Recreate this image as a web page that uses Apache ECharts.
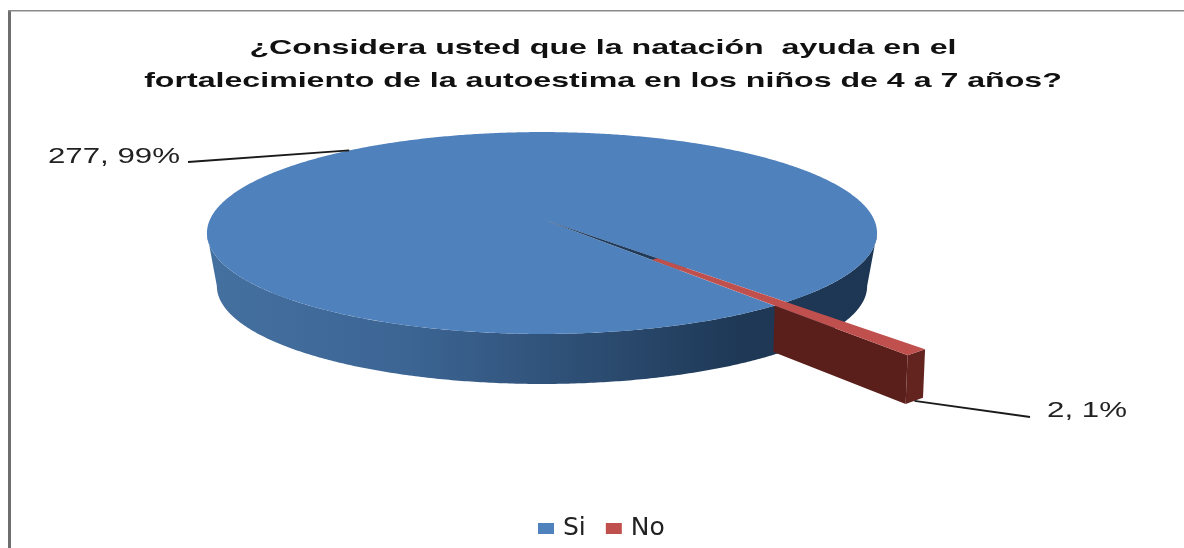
<!DOCTYPE html>
<html>
<head>
<meta charset="utf-8">
<style>html,body{margin:0;padding:0;background:#fff}#c{width:1184px;height:548px}</style>
<script src="https://cdn.jsdelivr.net/npm/echarts@6/dist/echarts.min.js"></script>
</head>
<body>
<div id="c"></div>
<script>
const titleLines = ['¿Considera usted que la natación  ayuda en el', 'fortalecimiento de la autoestima en los niños de 4 a 7 años?'];
const categories = ['Si', 'No'];
const values = [277, 2];
const colors = ['#4f81bd', '#c0504d'];

const total = values.reduce((a, b) => a + b, 0);
const startDeg = 51.3;
const PX = 542, K = 0.1387;
const topPlane = {R: 331.8, S: 99, cy: 219};
const bluePlane = {R: 322, S: 96, cy: 272.5};
const redPlane = {R: 330, S: 104, cy: 261};
const EXPLODE = 1.48;

function proj(plane, deg, r) {
  const a = deg * Math.PI / 180, u = r * Math.cos(a), v = r * Math.sin(a), w = 1 - K * v;
  return [PX + plane.R * u / w, plane.cy + plane.S * v / w];
}
function arc(plane, d0, d1, r) {
  const n = Math.max(2, Math.ceil(Math.abs(d1 - d0) * 2)), p = [];
  for (let i = 0; i <= n; i++) p.push(proj(plane, d0 + (d1 - d0) * i / n, r));
  return p;
}
function span(idx) {
  let s = startDeg;
  for (let i = 0; i < idx; i++) s += values[i] / total * 360;
  return [s, s + values[idx] / total * 360];
}
function labelText(i) {
  return values[i] + ', ' + Math.round(values[i] / total * 100) + '%';
}
function poly(points, fill, z2) {
  return {type: 'polygon', shape: {points}, style: {fill, stroke: null}, z2: z2 || 0, silent: true};
}
function leader(points) {
  return {type: 'polyline', shape: {points}, style: {stroke: '#1a1a1a', lineWidth: 1.8, fill: null}, z2: 20, silent: true};
}
function label(text, x, y) {
  return {type: 'text', x, y, scaleX: 1.42, z2: 20, silent: true,
    style: {text, fill: '#222', font: '22px "Liberation Sans"', textAlign: 'right', textVerticalAlign: 'middle'}};
}

function renderSi() {
  const [a0, a1] = span(0);
  const wallTop = arc(topPlane, 8, 172, 1);
  const wallBot = arc(bluePlane, 172, 8, 1);
  const mid = (a0 + a1) / 2;
  const wall = {
    type: 'polygon', shape: {points: wallTop.concat(wallBot)}, silent: true,
    style: {fill: new echarts.graphic.LinearGradient(0, 0, 1, 0, [
      {offset: 0, color: '#44709f'},
      {offset: 0.3, color: '#3c6594'},
      {offset: 0.55, color: '#2e4f75'},
      {offset: 0.8, color: '#1e3856'},
      {offset: 1, color: '#1c3653'}
    ])}
  };
  const face = poly([proj(topPlane, 0, 0)].concat(arc(topPlane, a0, a1, 1)), colors[0], 1);
  const slit = poly([proj(topPlane, 0, 0)].concat(arc(topPlane, a1, a0 + 360, 0.62)), '#1f3a5a', 2);
  return {type: 'group', children: [
    wall, face, slit,
    leader([[188, 162], proj(topPlane, mid, 1)]),
    label(labelText(0), 180, 157)
  ]};
}

function renderNo() {
  const [a0, a1] = span(1);
  const r = EXPLODE, mid = (a0 + a1) / 2;
  const sideWall = poly([proj(topPlane, a1, 1), proj(topPlane, a1, r), proj(redPlane, a1, r), proj(redPlane, a1, 1)], '#5a1f1b', 11);
  const endWall = poly([proj(topPlane, a1, r), proj(topPlane, a0, r), proj(redPlane, a0, r), proj(redPlane, a1, r)], '#632420', 11);
  const top = poly([proj(topPlane, a0, 0.5), proj(topPlane, a0, r), proj(topPlane, a1, r), proj(topPlane, a1, 0.5)], colors[1], 12);
  return {type: 'group', children: [
    sideWall, endWall, top,
    leader([proj(redPlane, mid, r), [1030, 417]]),
    label(labelText(1), 1127, 411)
  ]};
}

const renderers = [renderSi, renderNo];
const titleY = [48, 81];
const chart = echarts.init(document.getElementById('c'), null, {renderer: 'canvas'});
chart.setOption({
  animation: false,
  backgroundColor: '#fff',
  legend: {
    data: categories, left: 533, top: 511, icon: 'rect',
    itemWidth: 16, itemHeight: 11, itemGap: 20,
    textStyle: {fontFamily: '"DejaVu Sans"', fontSize: 25, color: '#222', padding: [0, 0, 0, 4]}
  },
  graphic: [
    {type: 'rect', shape: {x: 8, y: 10, width: 3, height: 538}, style: {fill: '#6e6e6e'}, silent: true},
    {type: 'rect', shape: {x: 8, y: 10, width: 1176, height: 1.5}, style: {fill: '#8a8a8a'}, silent: true}
  ].concat(titleLines.map((text, i) => ({
    type: 'text', x: 603, y: titleY[i], scaleX: 1.53, silent: true,
    style: {text, fill: '#111', font: 'bold 21px "Liberation Sans"', textAlign: 'center', textVerticalAlign: 'middle'}
  }))),
  series: categories.map((name, i) => ({
    type: 'custom', name, coordinateSystem: 'none', silent: true, z: 2 + i,
    itemStyle: {color: colors[i]},
    data: [values[i]],
    renderItem: () => renderers[i]()
  }))
});
</script>
</body>
</html>
